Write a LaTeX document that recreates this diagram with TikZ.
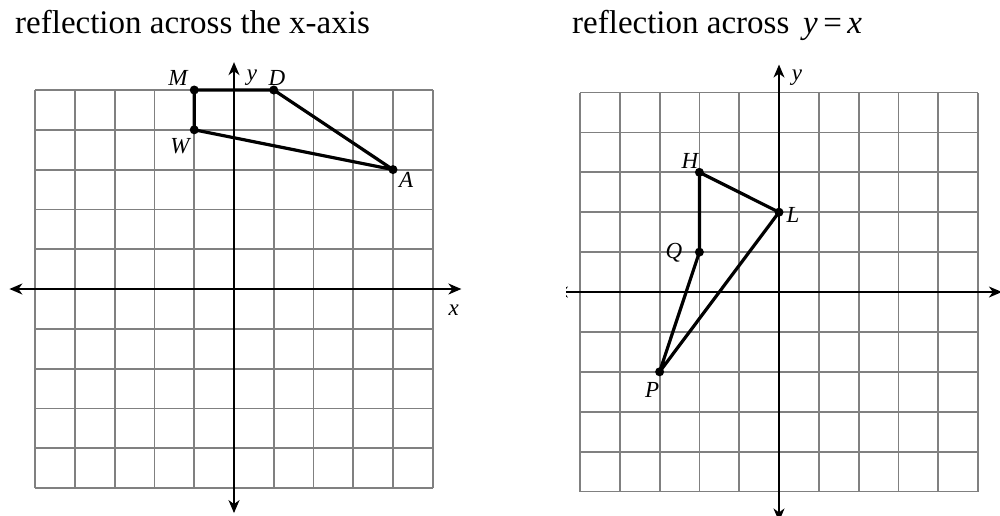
\documentclass[tikz,border=0pt]{standalone}
\usepackage{fontspec}
\setmainfont{Liberation Serif}
\usetikzlibrary{arrows.meta}
\begin{document}
\begin{tikzpicture}[x=1pt,y=-1pt,
  gridline/.style={draw=black!50,line width=1.8pt},
  axisline/.style={draw=black,line width=1.6pt,{Stealth[length=13pt,width=11pt,inset=4pt]}-{Stealth[length=13pt,width=11pt,inset=4pt]}},
  edge/.style={draw=black,line width=3.2pt,line join=round},
  pt/.style={circle,fill=black,inner sep=0pt,minimum size=9pt},
  lbl/.style={font=\fontsize{23}{26}\selectfont\itshape,inner sep=0pt},
  ttl/.style={font=\fontsize{33}{36}\selectfont,inner sep=0pt,anchor=base west}]
\useasboundingbox (0,0) rectangle (1000,515);
\fill[white] (0,0) rectangle (1000,515);
% titles
\node[ttl] (t1) at (15,33) {reflection across the x-axis};
\node[ttl] (t2) at (572,33) {reflection across \,{\itshape y}\,=\,{\itshape x}};
% ---------- left plot ----------
\begin{scope}[shift={(234,289)},x=39.75pt,y=39.8pt]
  \foreach \i in {-5,...,5} {
    \draw[gridline] (\i,-5) -- (\i,5);
    \draw[gridline] (-5,\i) -- (5,\i);
  }
  \coordinate (L-xl) at (-5.65,0);
  \coordinate (L-xr) at (5.72,0);
  \coordinate (L-yt) at (0,5.7);
  \coordinate (L-yb) at (0,-5.63);
  \draw[axisline] (L-xl) -- (L-xr);
  \draw[axisline] (L-yb) -- (L-yt);
  \coordinate (M) at (-1,5);
  \coordinate (D) at (1,5);
  \coordinate (W) at (-1,4);
  \coordinate (A) at (4,3);
  \draw[edge] (M) -- (D) -- (A) -- (W) -- cycle;
  \foreach \p in {M,D,W,A} \node[pt] (dot\p) at (\p) {};
  \node[lbl] (lM) at (-1.41,5.3) {M};
  \node[lbl] (lD) at (1.08,5.3) {D};
  \node[lbl] (lW) at (-1.36,3.59) {W};
  \node[lbl] (lA) at (4.33,2.74) {A};
  \node[lbl] (ly1) at (0.45,5.3) {y};
  \node[lbl] (lx1) at (5.53,-0.53) {x};
\end{scope}
% ---------- right plot ----------
\begin{scope}
\clip (566,0) rectangle (1000,515);
\begin{scope}[shift={(779,292)},x=39.8pt,y=39.9pt]
  \foreach \i in {-5,...,5} {
    \draw[gridline] (\i,-5) -- (\i,5);
    \draw[gridline] (-5,\i) -- (5,\i);
  }
  \coordinate (R-xl) at (-5.63,0);
  \coordinate (R-xr) at (5.6,0);
  \coordinate (R-yt) at (0,5.7);
  \coordinate (R-yb) at (0,-5.75);
  \draw[axisline] (R-xl) -- (R-xr);
  \draw[axisline] (R-yb) -- (R-yt);
  \coordinate (H) at (-2,3);
  \coordinate (Lp) at (0,2);
  \coordinate (Q) at (-2,1);
  \coordinate (P) at (-3,-2);
  \draw[edge] (H) -- (Lp) -- (P) -- (Q) -- cycle;
  \foreach \p in {H,Lp,Q,P} \node[pt] (dot\p) at (\p) {};
  \node[lbl] (lH) at (-2.24,3.28) {H};
  \node[lbl] (lL) at (0.35,1.93) {L};
  \node[lbl] (lQ) at (-2.64,0.98) {Q};
  \node[lbl] (lP) at (-3.19,-2.46) {P};
  \node[lbl] (ly2) at (0.45,5.36) {y};
  \node[lbl] (lx2) at (5.7,-0.5) {x};
\end{scope}
\end{scope}
\end{tikzpicture}
\end{document}
